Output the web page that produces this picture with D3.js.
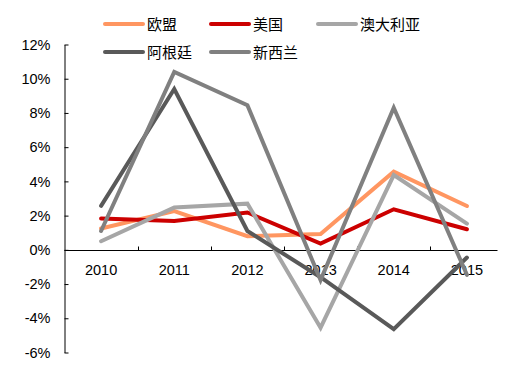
<!DOCTYPE html>
<meta charset="utf-8">
<html>
  <head>
    <title>growth</title>
    <script src="https://d3js.org/d3.v7.min.js"></script>
    <style>
      body { margin: 0; background: #fff; }
      text { font-family: "Liberation Sans", Arial, sans-serif; fill: #000; }
      .legend text { font-family: "Noto Sans CJK SC", sans-serif; }
    </style>
  </head>
  <body>
    <div id="chart"></div>
    <script type="text/javascript">
        /* data */
        var years = ["2010", "2011", "2012", "2013", "2014", "2015"];
        var series_names = ["欧盟", "美国", "澳大利亚", "阿根廷", "新西兰"];
        var eu  = [1.25, 2.27, 0.8, 0.93, 4.57, 2.56];
        var us  = [1.83, 1.69, 2.18, 0.37, 2.37, 1.2];
        var aus = [0.5, 2.47, 2.7, -4.55, 4.37, 1.53];
        var arg = [2.57, 9.4, 1.1, -1.6, -4.63, -0.45];
        var nz  = [1.1, 10.4, 8.45, -1.77, 8.3, -1.46];
        var y_ticks = [-6, -4, -2, 0, 2, 4, 6, 8, 10, 12];

        var colors = ["#FF9661", "#CC0000", "#A6A6A6", "#595959", "#808080"];
        var all_series = [eu, us, aus, arg, nz];

        var total_width = 512, total_height = 376;
        var svg = d3.select("#chart").append("svg")
            .attr("width", total_width)
            .attr("height", total_height);

        /* scales */
        var x_scale = d3.scaleBand()
            .domain(years)
            .range([64.5, 503.5]);
        var y_scale = d3.scaleLinear()
            .domain([-6, 12])
            .range([352.5, 44.5]);

        /* y axis, ticks pointing inwards */
        var y_axis = svg.append("g")
            .attr("transform", "translate(" + 64.5 + ",0)")
            .call(d3.axisRight(y_scale).tickValues(y_ticks).tickSize(4).tickSizeOuter(0)
                .tickFormat(function(d){ return d + "%"; }));
        y_axis.selectAll("text")
            .attr("x", -14)
            .attr("text-anchor", "end")
            .attr("font-size", 14.5)
            .attr("font-family", "Liberation Sans, Arial, sans-serif");
        y_axis.selectAll("line, path").attr("stroke", "#000");

        /* x axis at 0%, ticks between categories */
        var x_axis = svg.append("g")
            .attr("transform", "translate(0," + Math.round(y_scale(0)) + ".5)");
        x_axis.append("line")
            .attr("x1", x_scale.range()[0])
            .attr("x2", x_scale.range()[1] - 6)
            .attr("stroke", "#000");
        x_axis.selectAll(".tk")
            .data(years.slice(1))
            .enter().append("line")
            .attr("x1", function(d){ return Math.round(x_scale(d)) + 0.5; })
            .attr("x2", function(d){ return Math.round(x_scale(d)) + 0.5; })
            .attr("y1", 0)
            .attr("y2", -4)
            .attr("stroke", "#000");
        x_axis.selectAll(".lbl")
            .data(years)
            .enter().append("text")
            .attr("x", function(d){ return x_scale(d) + x_scale.bandwidth() / 2; })
            .attr("y", 24)
            .attr("text-anchor", "middle")
            .attr("font-size", 14.5)
            .text(function(d){ return d; });

        /* lines */
        var line = d3.line()
            .x(function(d, i){ return x_scale(years[i]) + x_scale.bandwidth() / 2; })
            .y(function(d){ return y_scale(d); });

        svg.append("g").selectAll("path")
            .data(all_series)
            .enter().append("path")
            .attr("d", function(d){ return line(d); })
            .attr("fill", "none")
            .attr("stroke", function(d, i){ return colors[i]; })
            .attr("stroke-width", 4)
            .attr("stroke-linejoin", "miter")
            .attr("stroke-linecap", "round");

        /* legend */
        var legend_pos = [[105, 24], [211, 24], [318, 24], [105, 52], [211, 52]];
        var legend = svg.append("g").attr("class", "legend")
            .selectAll("g")
            .data(series_names)
            .enter().append("g")
            .attr("transform", function(d, i){ return "translate(" + legend_pos[i][0] + "," + legend_pos[i][1] + ")"; });
        legend.append("line")
            .attr("x1", 0).attr("x2", 38)
            .attr("stroke", function(d, i){ return colors[i]; })
            .attr("stroke-width", 4)
            .attr("stroke-linecap", "round");
        legend.append("text")
            .attr("x", 42)
            .attr("y", 5.5)
            .attr("font-size", 15)
            .text(function(d){ return d; });
    </script>
  </body>
</html>
